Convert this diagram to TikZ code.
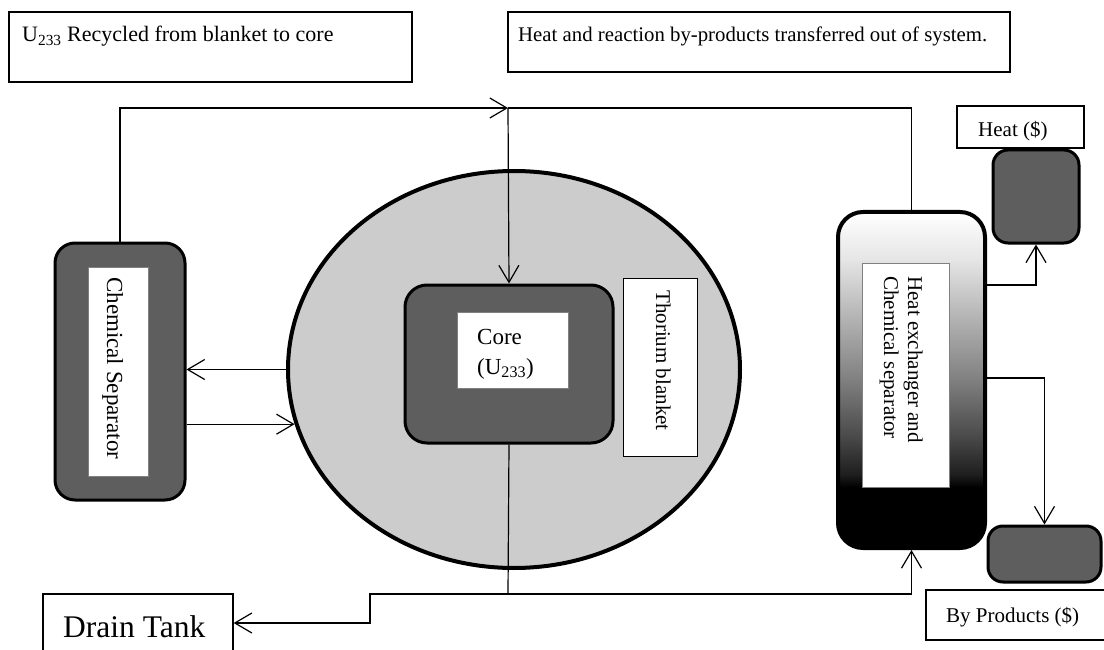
\documentclass[tikz,border=0pt]{standalone}
\usepackage{fontspec}
\setmainfont{Liberation Serif}
\usetikzlibrary{arrows.meta,shapes.geometric}
\pgfdeclareverticalshading{hxshade}{100bp}{color(0bp)=(black); color(34bp)=(black); color(36bp)=(black!88); color(42bp)=(black!70); color(50bp)=(black!50); color(60bp)=(black!28); color(68bp)=(black!10); color(75bp)=(white); color(100bp)=(white)}
\begin{document}
\begin{tikzpicture}[x=1pt,y=-1pt,
  lbl/.style={draw, line width=1.4pt, fill=white, inner sep=0pt},
  darkbox/.style={draw, line width=3pt, fill=black!63, inner sep=0pt},
  whitebox/.style={draw=black!50, line width=0.8pt, fill=white, inner sep=0pt},
  txt/.style={inner sep=0pt, font=\fontsize{21}{25}\selectfont},
  bigtxt/.style={inner sep=0pt, font=\fontsize{23}{27}\selectfont},
  conn/.style={line width=1.2pt},
  arr/.style={conn, -{Straight Barb[length=17pt, width=20pt, line width=1.2pt]}}
]
\useasboundingbox (0,0) rectangle (1104,650);
\clip (0,0) rectangle (1104,650);
\fill[white] (0,0) rectangle (1104,650);

% top label boxes
\node[lbl, minimum width=403pt, minimum height=70pt] (recyc) at (210.5,47) {};
\node[txt, font=\fontsize{22}{26}\selectfont, anchor=base west] (recyctxt) at (22,42) {U\textsubscript{233} Recycled from blanket to core};
\node[lbl, minimum width=502pt, minimum height=60pt] (heatout) at (759,42) {};
\node[txt, font=\fontsize{20.8}{25}\selectfont, anchor=base west] (heatouttxt) at (518,42) {Heat and reaction by-products transferred out of system.};

% chemical separator
\node[darkbox, rounded corners=20pt, minimum width=130pt, minimum height=257pt] (sep) at (120,371.5) {};
\node[whitebox, minimum width=60pt, minimum height=209pt] (sepin) at (118,371.5) {};
\node[bigtxt, rotate=-90, anchor=base west] (septxt) at (107,277) {Chemical Separator};

% thorium blanket
\node[draw, ellipse, line width=4pt, fill=black!20, minimum width=452pt, minimum height=397pt, inner sep=0pt] (blanket) at (514,369.5) {};
\node[darkbox, rounded corners=22pt, minimum width=208pt, minimum height=158pt] (core) at (509,364) {};
\node[whitebox, minimum width=111pt, minimum height=76pt] (corein) at (512.5,350) {};
\node[bigtxt, anchor=base west] (coretxt) at (477,344) {Core};
\node[bigtxt, anchor=base west] (coretxt2) at (477,374) {(U\textsubscript{233})};
\node[lbl, line width=1pt, minimum width=74pt, minimum height=178pt] (thor) at (660,367) {};
\node[txt, rotate=-90, anchor=base west] (thortxt) at (656,290) {Thorium blanket};

% heat exchanger
\node[draw, line width=4pt, rounded corners=25pt, shade, shading=hxshade, minimum width=147pt, minimum height=336pt, inner sep=0pt] (hx) at (911.5,380) {};
\node[whitebox, minimum width=87pt, minimum height=224pt] (hxin) at (905.5,375) {};
\node[txt, rotate=-90, anchor=base west] (hxtxt1) at (908,276) {Heat exchanger and};
\node[txt, rotate=-90, anchor=base west] (hxtxt2) at (884,276) {Chemical separator};

% heat output
\node[lbl, minimum width=127pt, minimum height=42pt] (heatlbl) at (1020.5,127) {};
\node[txt, anchor=base west] (heatlbltxt) at (978,137) {Heat (\$)};
\node[darkbox, rounded corners=15pt, minimum width=86pt, minimum height=93pt] (heatbox) at (1036,196.5) {};

% by-products output
\node[darkbox, rounded corners=15pt, minimum width=113pt, minimum height=56pt] (bpbox) at (1044.5,554) {};
\node[lbl, minimum width=180pt, minimum height=50pt] (bplbl) at (1016,615) {};
\node[txt, anchor=base west] (bplbltxt) at (946,622) {By Products (\$)};

% drain tank
\node[lbl, minimum width=190pt, minimum height=70pt] (drain) at (138,629) {};
\node[inner sep=0pt, font=\fontsize{31.5}{36}\selectfont, anchor=base west] (draintxt) at (63,637) {Drain Tank};

% connectors
\coordinate (J) at (508,108);
\coordinate (J2) at (508,594);
\coordinate (dstep) at (370,623);
\draw[arr] (sep.north) |- (J);
\draw[arr] (J) -- (core.north);
\draw[conn] (J) -| (hx.north);
\draw[arr] (blanket.180.5) -- (sep.east |- blanket.180.5);
\draw[arr] (sep.east |- blanket.194.8) -- (blanket.194.8);
\draw[conn] (core.south) -- (J2);
\draw[arr] (J2) -| (hx.south);
\draw[arr] (J2) -| (dstep) -- (drain.east |- dstep);
\draw[arr] ([yshift=95pt]hx.east) -| (heatbox.south);
\draw[arr] ([yshift=2pt]hx.east) -| (bpbox.north);
\end{tikzpicture}
\end{document}
